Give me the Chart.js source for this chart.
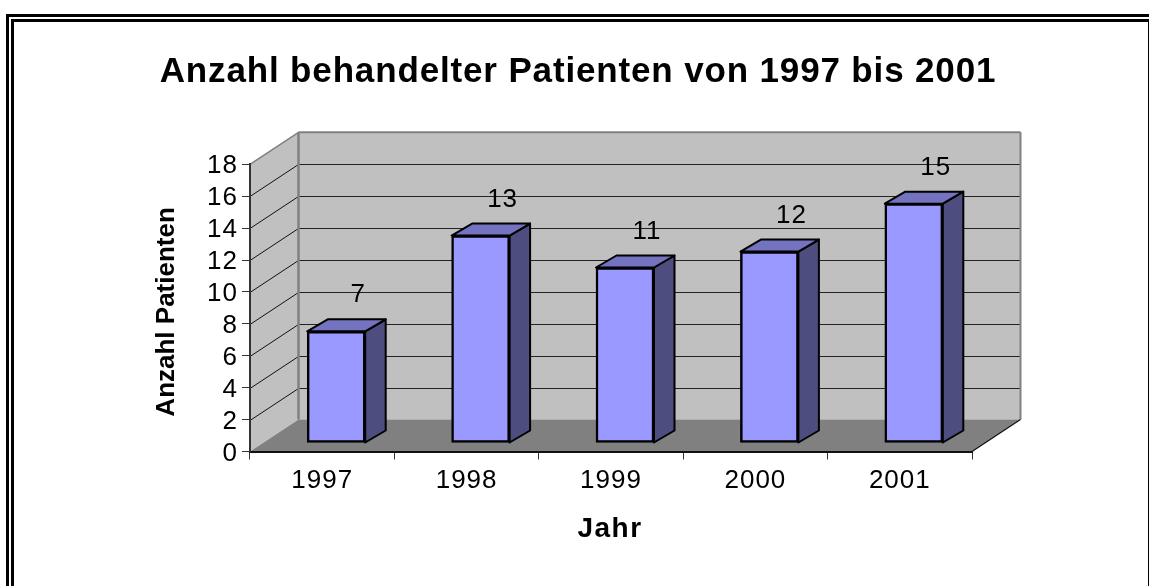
<!DOCTYPE html>
<html>
<head>
<meta charset="utf-8">
<title>Anzahl behandelter Patienten</title>
<script src="https://cdn.jsdelivr.net/npm/chart.js@4"></script>
<style>
  html, body { margin: 0; background: #fff; overflow: hidden; }
  .frame { position: absolute; right: 0; bottom: 0; border-top: 3px solid #000; border-left: 3px solid #000; }
  .outer { left: 6px; top: 14px; }
  .inner { left: 11px; top: 19px; border-right: 1px solid #000; }
  canvas { position: absolute; left: 0; top: 0; }
</style>
</head>
<body>
<div class="frame outer"></div>
<div class="frame inner"></div>
<canvas id="chart" width="1149" height="586"></canvas>
<script>
const years = ['1997', '1998', '1999', '2000', '2001'];
const patients = [7, 13, 11, 12, 15];
const yTicks = [0, 2, 4, 6, 8, 10, 12, 14, 16, 18];

const FONT = '"Liberation Sans", Arial, sans-serif';

// Fake 3D: how far the back wall and the bars sit behind the front plane
const wall = { dx: 48.5, dy: -32 };
const barShift = { dx: 14, dy: -8.5 };
const barDepth = { dx: 20.5, dy: -12 };

function poly(ctx, pts, fill, stroke, width) {
  ctx.beginPath();
  pts.forEach((p, i) => i ? ctx.lineTo(p[0], p[1]) : ctx.moveTo(p[0], p[1]));
  ctx.closePath();
  ctx.fillStyle = fill;
  ctx.fill();
  if (stroke) {
    ctx.lineJoin = 'round';
    ctx.strokeStyle = stroke;
    ctx.lineWidth = width;
    ctx.stroke();
  }
}

function line(ctx, x1, y1, x2, y2, color, width) {
  ctx.beginPath();
  ctx.moveTo(x1, y1);
  ctx.lineTo(x2, y2);
  ctx.strokeStyle = color;
  ctx.lineWidth = width;
  ctx.stroke();
}

// The reference text is wider than Liberation Sans, so nudge and space it out
function tweakText(obj, method, spacing, dx, dy) {
  const orig = obj[method];
  obj[method] = function (...args) {
    const ctx = this.ctx;
    ctx.save();
    ctx.letterSpacing = spacing;
    ctx.translate(dx, dy);
    orig.apply(this, args);
    ctx.restore();
  };
}

const box3d = {
  id: 'box3d',
  afterLayout(chart) {
    const { x, y } = chart.scales;
    // Title is centred right of the canvas middle, and needs room or it gets squeezed
    chart.titleBlock.left = 50;
    chart.titleBlock.right = 1106;
    tweakText(chart.titleBlock, 'draw', '0.85px', 0, 0);
    tweakText(y, 'drawLabels', '1px', 1, 2);
    tweakText(x, 'drawLabels', '1px', 0, 0);
    tweakText(y, 'drawTitle', '0px', 1, 4);
    tweakText(x, 'drawTitle', '1.5px', -1, 0);
  },
  beforeDraw(chart) {
    const { ctx, chartArea: a, scales: { y } } = chart;
    const x0 = a.left, x1 = a.right, yB = y.getPixelForValue(0), yT = y.getPixelForValue(18);
    const bx0 = x0 + wall.dx, bx1 = x1 + wall.dx;
    ctx.save();
    // left wall, back wall, floor
    poly(ctx, [[x0, yB], [bx0, yB + wall.dy], [bx0, yT + wall.dy], [x0, yT]], '#c0c0c0');
    poly(ctx, [[bx0, yB + wall.dy], [bx1, yB + wall.dy], [bx1, yT + wall.dy], [bx0, yT + wall.dy]], '#c0c0c0');
    poly(ctx, [[x0, yB], [x1, yB], [bx1, yB + wall.dy], [bx0, yB + wall.dy]], '#808080');
    // grid lines running across the left wall and the back wall
    yTicks.slice(1, -1).forEach(v => {
      const py = Math.round(y.getPixelForValue(v)) + 0.5;
      line(ctx, x0, py, bx0, py + wall.dy, '#111', 1);
      line(ctx, bx0, py + wall.dy, bx1, py + wall.dy, '#222', 1.2);
    });
    // wall frame
    line(ctx, x0, yT, bx0, yT + wall.dy, '#808080', 1.5);
    line(ctx, bx0, yT + wall.dy, bx1, yT + wall.dy, '#808080', 2);
    line(ctx, bx0, yT + wall.dy, bx0, yB + wall.dy, '#808080', 2.5);
    line(ctx, bx1, yT + wall.dy, bx1, yB + wall.dy, '#808080', 2);
    line(ctx, x1, yB, bx1, yB + wall.dy, '#111', 1.2);
    ctx.restore();
  },
  beforeDatasetsDraw(chart) {
    chart.ctx.save();
    chart.ctx.translate(barShift.dx, barShift.dy);
  },
  afterDatasetsDraw(chart) {
    const ctx = chart.ctx;
    const bars = chart.getDatasetMeta(0).data;
    bars.forEach(b => {
      const l = b.x - b.width / 2, r = b.x + b.width / 2;
      poly(ctx, [[r, b.y], [r + barDepth.dx, b.y + barDepth.dy], [r + barDepth.dx, b.base + barDepth.dy], [r, b.base]], '#4d4d80', '#000', 2);
      poly(ctx, [[l, b.y], [l + barDepth.dx, b.y + barDepth.dy], [r + barDepth.dx, b.y + barDepth.dy], [r, b.y]], '#7373bf', '#000', 2);
    });
    ctx.restore();
    // value labels float above the bars
    ctx.save();
    ctx.font = '26px ' + FONT;
    ctx.letterSpacing = '1px';
    ctx.fillStyle = '#000';
    ctx.textAlign = 'center';
    ctx.textBaseline = 'middle';
    bars.forEach((b, i) => {
      ctx.fillText(String(patients[i]), b.x + barShift.dx + 22, b.y + barShift.dy - 36);
    });
    ctx.restore();
  }
};

new Chart(document.getElementById('chart'), {
  type: 'bar',
  data: {
    labels: years,
    datasets: [{
      label: 'Anzahl Patienten',
      data: patients,
      backgroundColor: '#9999ff',
      borderColor: '#000',
      borderWidth: 2.5,
      borderSkipped: false,
      barThickness: 58
    }]
  },
  plugins: [box3d],
  options: {
    responsive: false,
    animation: false,
    events: [],
    layout: { padding: { left: 150, right: 177, top: 0, bottom: 39.5 } },
    plugins: {
      legend: { display: false },
      tooltip: { enabled: false },
      title: {
        display: true,
        text: 'Anzahl behandelter Patienten von 1997 bis 2001',
        color: '#000',
        font: { family: FONT, size: 35, weight: 'bold' },
        padding: { top: 51, bottom: 71.3 }
      }
    },
    scales: {
      x: {
        afterFit: s => { s.height = 95; },
        grid: { offset: true, drawOnChartArea: false, color: '#333', tickLength: 8 },
        border: { color: '#111', width: 2 },
        ticks: { color: '#000', padding: 6, font: { family: FONT, size: 26 } },
        title: {
          display: true,
          text: 'Jahr',
          color: '#000',
          font: { family: FONT, size: 28, weight: 'bold' },
          padding: { top: 0, bottom: 0 }
        }
      },
      y: {
        min: 0,
        max: 18,
        afterFit: s => { s.width = 100; },
        afterBuildTicks: s => { s.ticks = yTicks.map(v => ({ value: v })); },
        grid: { drawOnChartArea: false, color: '#333', tickLength: 8 },
        border: { color: '#333', width: 2 },
        ticks: { color: '#000', padding: 5, autoSkip: false, font: { family: FONT, size: 26 } },
        title: {
          display: true,
          text: 'Anzahl Patienten',
          color: '#000',
          font: { family: FONT, size: 26, weight: 'bold' },
          padding: { top: 0, bottom: 0 }
        }
      }
    }
  }
});
</script>
</body>
</html>
